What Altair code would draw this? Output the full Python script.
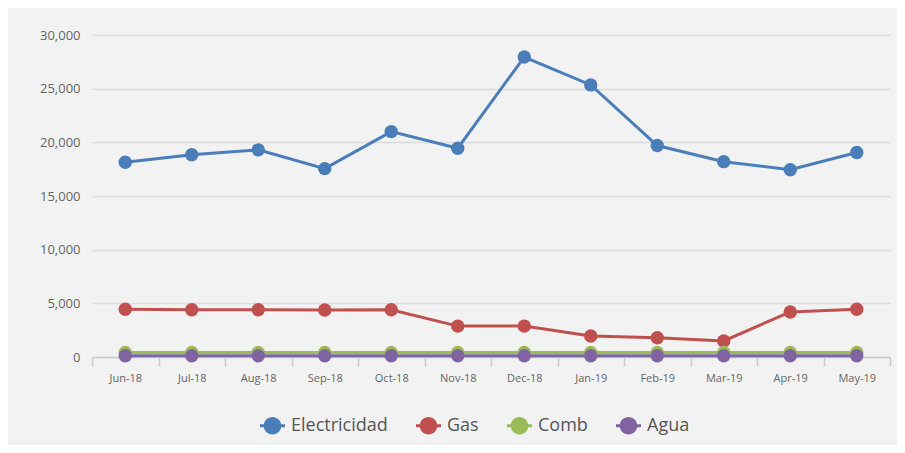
import altair as alt
import pandas as pd

meses = ["Jun-18", "Jul-18", "Aug-18", "Sep-18", "Oct-18", "Nov-18",
         "Dec-18", "Jan-19", "Feb-19", "Mar-19", "Apr-19", "May-19"]
series = ["Electricidad", "Gas", "Comb", "Agua"]
colores = ["#4A7EBB", "#C0504D", "#9BBB59", "#8064A2"]

electricidad = [18150, 18850, 19300, 17550, 21000, 19450, 27950, 25350, 19700, 18200, 17450, 19050]
gas = [4450, 4400, 4400, 4380, 4400, 2880, 2880, 1950, 1800, 1500, 4200, 4450]
comb = [420, 420, 420, 420, 420, 420, 420, 420, 420, 420, 420, 420]
agua = [120, 120, 120, 120, 120, 120, 120, 120, 120, 120, 120, 120]

rows = []
for nombre, vals in zip(series, [electricidad, gas, comb, agua]):
    for i, (m, v) in enumerate(zip(meses, vals)):
        rows.append({"mes": m, "idx": i, "serie": nombre, "valor": v})
df = pd.DataFrame(rows)

legend_path = ("M -1 -0.12 L 1 -0.12 L 1 0.12 L -1 0.12 Z "
               "M 0.7 0 A 0.7 0.7 0 1 1 -0.7 0 A 0.7 0.7 0 1 1 0.7 0 Z")

x_enc = alt.X("mes:O", sort=meses, bandPosition=0.5, title=None,
              scale=alt.Scale(type="band", paddingInner=0, paddingOuter=0),
              axis=alt.Axis(tickBand="extent", labelAngle=0, labelFont="Open Sans",
                            labelFontSize=11, labelColor="#666666", labelPadding=6,
                            domainColor="#cccccc", domainWidth=1.5, tickColor="#cccccc",
                            tickWidth=1.5, tickSize=9, grid=False))
y_enc = alt.Y("valor:Q", title=None,
              scale=alt.Scale(domain=[0, 30000], nice=False),
              axis=alt.Axis(values=[0, 5000, 10000, 15000, 20000, 25000, 30000],
                            format=",.0f", labelFont="Open Sans", labelFontSize=13,
                            labelColor="#666666", labelPadding=12, ticks=False,
                            domain=False, gridColor="#dcdcdc", gridWidth=1.5))
color_enc = alt.Color("serie:N", sort=series,
                      scale=alt.Scale(domain=series, range=colores),
                      legend=alt.Legend(
                          title=None, orient="none", direction="horizontal",
                          legendX=168, legendY=378,
                          symbolType=legend_path, symbolSize=625,
                          symbolStrokeWidth=0, symbolOpacity=1,
                          labelFont="Open Sans",
                          labelFontSize=18, labelColor="#555555",
                          labelOffset=6, columnPadding=28))

base = alt.Chart(df).encode(x=x_enc, y=y_enc, color=color_enc)

lines = base.mark_line(strokeWidth=3).encode(order=alt.Order("idx:Q"))
points = base.mark_circle(size=180, opacity=1)

chart = alt.layer(lines, points).properties(
    width=798, height=322,
    autosize=alt.AutoSizeParams(type="none"),
    padding={"left": 84, "top": 27, "right": 7, "bottom": 88},
    background="#f2f2f2",
).configure_view(stroke=None)

chart.save("out.html", embed_options={"renderer": "svg", "actions": False})
